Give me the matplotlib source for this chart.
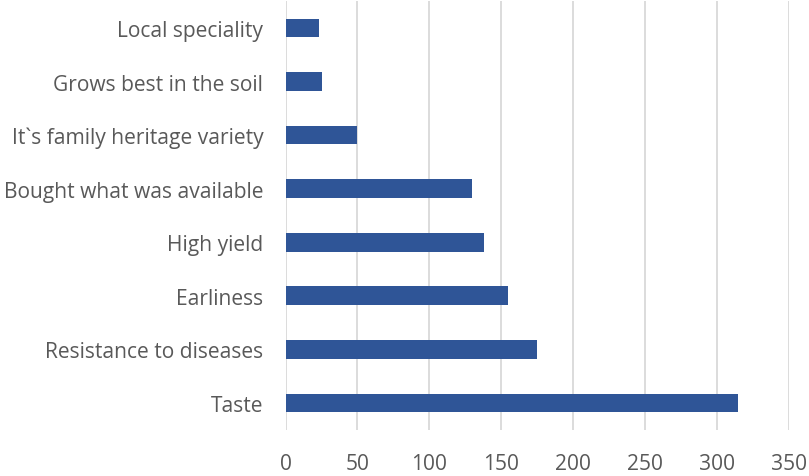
import matplotlib
matplotlib.use("Agg")
import matplotlib.pyplot as plt

categories = ['Taste', 'Resistance to diseases', 'Earliness', 'High yield',
              'Bought what was available', 'It`s family heritage variety',
              'Grows best in the soil', 'Local speciality']
values = [315, 175, 155, 138, 130, 50, 25, 23]
xticks = [0, 50, 100, 150, 200, 250, 300, 350]

plt.rcParams['font.family'] = ['Open Sans', 'DejaVu Sans']

fig = plt.figure(figsize=(8.09, 4.77), dpi=100)
ax = fig.add_axes([0.353, 0.097, 0.622, 0.8985])

y = range(len(categories))
ax.barh(y, values, height=0.35, color='#2F5597', zorder=3)

ax.set_xlim(0, 350)
ax.set_ylim(-0.5, len(categories) - 0.5)
ax.set_xticks(xticks)
ax.set_yticks(list(y))
ax.set_yticklabels(categories)
ax.grid(axis='x', color='#D9D9D9', linewidth=1.3, zorder=0)
for s in ax.spines.values():
    s.set_visible(False)
ax.tick_params(length=0, labelsize=15.1, colors='#595959')
ax.tick_params(axis='x', pad=17)
ax.tick_params(axis='y', pad=16)

fig.savefig('out.png', dpi=100)
